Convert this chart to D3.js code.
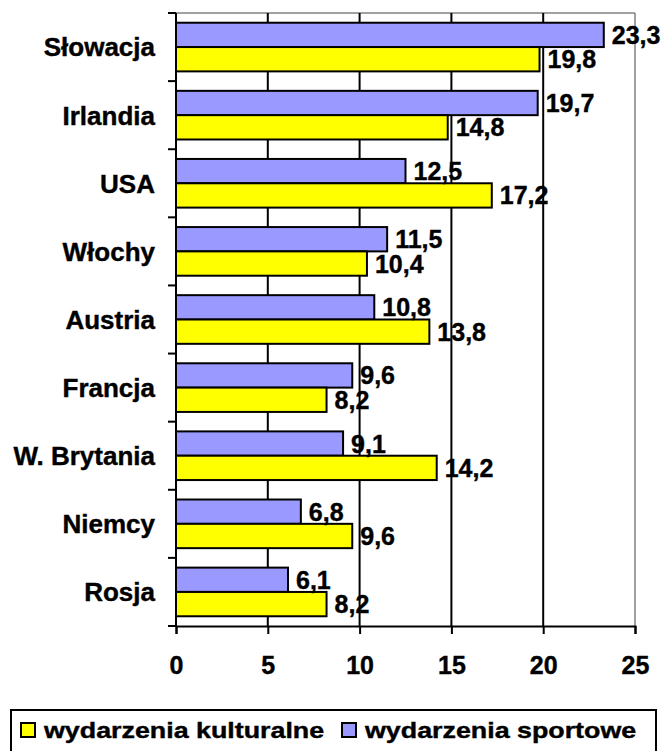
<!DOCTYPE html>
<html lang="pl">
  <head>
    <meta charset="utf-8">
    <title>Wydarzenia kulturalne i sportowe</title>
    <script type="text/javascript" src="https://cdn.jsdelivr.net/npm/d3@7"></script>
    <style>
    body { margin: 0; background: #fff; }
    text { font-family: Arial, "Liberation Sans", sans-serif; font-weight: bold; }
    </style>
  </head>
  <body>
    <script type="text/javascript">
      var countries = ["Słowacja", "Irlandia", "USA", "Włochy", "Austria",
                       "Francja", "W. Brytania", "Niemcy", "Rosja"];
      var sport = [23.3, 19.7, 12.5, 11.5, 10.8, 9.6, 9.1, 6.8, 6.1];
      var culture = [19.8, 14.8, 17.2, 10.4, 13.8, 8.2, 14.2, 9.6, 8.2];
      var xTicks = [0, 5, 10, 15, 20, 25];
      var seriesNames = ["wydarzenia kulturalne", "wydarzenia sportowe"];
      var colors = {sport: "#9999ff", culture: "#ffff00"};

      var w = 667, h = 751;
      var plotLeft = 176, plotRight = 635, plotTop = 13, plotBottom = 626;

      var svg = d3.select("body").append("svg")
                  .attr("width", w)
                  .attr("height", h);

      var x = d3.scaleLinear().domain([0, 25]).range([plotLeft, plotRight]);
      var y = d3.scaleBand().domain(countries).range([plotTop, plotBottom]);
      var sub = d3.scaleBand().domain(["sport", "culture"])
                  .range([0, y.bandwidth()]).paddingOuter(0.4).paddingInner(0);

      // gray frame on top and right
      svg.append("line").attr("x1", plotLeft).attr("x2", plotRight)
         .attr("y1", plotTop).attr("y2", plotTop)
         .attr("stroke", "#808080").attr("stroke-width", 1.5);
      svg.append("line").attr("x1", plotRight).attr("x2", plotRight)
         .attr("y1", plotTop).attr("y2", plotBottom)
         .attr("stroke", "#808080").attr("stroke-width", 1.5);

      // gridlines
      svg.selectAll("line.grid")
         .data(xTicks.filter(function(d){ return d > 0 && d < 25; }))
         .enter().append("line")
         .attr("class", "grid")
         .attr("x1", function(d){ return x(d); })
         .attr("x2", function(d){ return x(d); })
         .attr("y1", plotTop).attr("y2", plotBottom)
         .attr("stroke", "#000").attr("stroke-width", 2);

      var rows = countries.map(function(c, i){
        return {name: c, sport: sport[i], culture: culture[i]};
      });

      ["sport", "culture"].forEach(function(key){
        svg.selectAll("rect." + key)
           .data(rows)
           .enter().append("rect")
           .attr("class", key)
           .attr("x", x(0))
           .attr("y", function(d){ return y(d.name) + sub(key); })
           .attr("width", function(d){ return x(d[key]) - x(0); })
           .attr("height", sub.bandwidth())
           .attr("fill", colors[key])
           .attr("stroke", "#000")
           .attr("stroke-width", 2);
      });

      ["sport", "culture"].forEach(function(key){
        svg.selectAll("text." + key)
           .data(rows)
           .enter().append("text")
           .attr("class", key)
           .text(function(d){ return String(d[key]).replace(".", ","); })
           .attr("x", function(d){ return x(d[key]) + 8; })
           .attr("y", function(d){ return y(d.name) + sub(key) + sub.bandwidth() / 2; })
           .attr("dy", "0.36em")
           .attr("font-size", "25px")
           .attr("stroke", "#000").attr("stroke-width", 0.4)
           .attr("fill", "#000");
      });

      // x axis
      var xAxis = d3.axisBottom(x).tickValues(xTicks).tickSize(8).tickPadding(22);
      var gx = svg.append("g").attr("transform", "translate(0," + plotBottom + ")").call(xAxis);
      gx.select(".domain").attr("stroke-width", 2);
      gx.selectAll(".tick line").attr("stroke-width", 2);
      gx.selectAll("text").attr("font-size", "25px").attr("font-family", null)
        .attr("stroke", "#000").attr("stroke-width", 0.4);

      // y axis with category ticks between bands
      var yTicks = countries.map(function(c){ return y(c); }).concat([plotBottom]);
      svg.append("line").attr("x1", plotLeft).attr("x2", plotLeft)
         .attr("y1", plotTop).attr("y2", plotBottom)
         .attr("stroke", "#000").attr("stroke-width", 2);
      svg.selectAll("line.ytick")
         .data(yTicks)
         .enter().append("line")
         .attr("class", "ytick")
         .attr("x1", plotLeft - 8).attr("x2", plotLeft)
         .attr("y1", function(d){ return d; })
         .attr("y2", function(d){ return d; })
         .attr("stroke", "#000").attr("stroke-width", 2);
      svg.selectAll("text.cat")
         .data(countries)
         .enter().append("text")
         .attr("class", "cat")
         .text(function(d){ return d; })
         .attr("x", 155)
         .attr("y", function(d){ return y(d) + y.bandwidth() / 2; })
         .attr("dy", "0.36em")
         .attr("text-anchor", "end")
         .attr("font-size", "26px")
         .attr("stroke", "#000").attr("stroke-width", 0.4);

      // legend
      var lg = svg.append("g");
      lg.append("rect").attr("x", 11).attr("y", 710).attr("width", 645).attr("height", 50)
        .attr("fill", "#fff").attr("stroke", "#000").attr("stroke-width", 2);
      var legendColors = [colors.culture, colors.sport];
      var legendX = [21, 342];
      seriesNames.forEach(function(n, i){
        lg.append("rect").attr("x", legendX[i]).attr("y", 723)
          .attr("width", 14).attr("height", 14)
          .attr("fill", legendColors[i]).attr("stroke", "#000").attr("stroke-width", 2);
        lg.append("text")
          .attr("transform", "translate(" + (legendX[i] + 23) + ",738) scale(1.22,1)")
          .attr("font-size", "22px")
          .attr("stroke", "#000").attr("stroke-width", 0.4)
          .text(n);
      });
    </script>
  </body>
</html>
